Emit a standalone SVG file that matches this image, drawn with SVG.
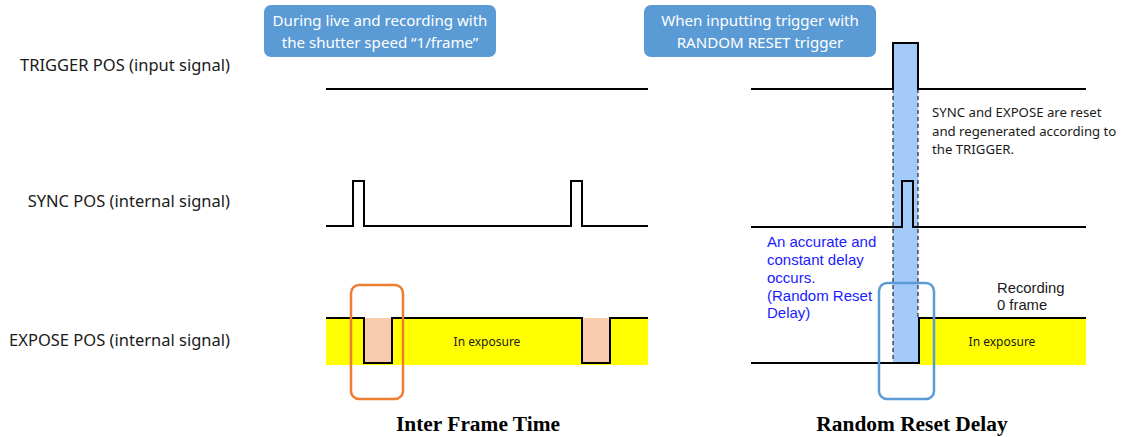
<svg xmlns="http://www.w3.org/2000/svg" width="1148" height="437" viewBox="0 0 1148 437">
<style>
.lbl{font-family:"Noto Sans","Open Sans",sans-serif;font-size:16.5px;fill:#1a1a1a}
.box{fill:#5B9BD5}
.boxt{font-family:"Noto Sans","Open Sans",sans-serif;font-size:15.1px;fill:#ffffff;text-anchor:middle}
.sig{fill:none;stroke:#000;stroke-width:2}
.note{font-family:"Noto Sans","Open Sans",sans-serif;font-size:13.2px;fill:#1a1a1a}
.rec{font-family:"Liberation Sans",Arial,sans-serif;font-size:14.8px;fill:#1a1a1a}
.blue{font-family:"Liberation Sans",Arial,sans-serif;font-size:15px;fill:#1a1aff}
.exp{font-family:"Noto Sans","Open Sans",sans-serif;font-size:12px;fill:#1a1a1a;text-anchor:middle}
.title{font-family:"Liberation Serif",serif;font-size:21.4px;font-weight:bold;fill:#000;text-anchor:middle}
.dash{stroke:#000;stroke-width:1;stroke-dasharray:4 3;fill:none}
</style>
<rect width="1148" height="437" fill="#ffffff"/>
<g id="label-trigger"><text class="lbl" x="230" y="71" text-anchor="end">TRIGGER POS (input signal)</text></g>
<g id="label-sync"><text class="lbl" x="230" y="207" text-anchor="end">SYNC POS (internal signal)</text></g>
<g id="label-expose"><text class="lbl" x="230" y="346" text-anchor="end">EXPOSE POS (internal signal)</text></g>
<g id="callout-left">
<rect class="box" x="264" y="5" width="232" height="52" rx="7"/>
<text class="boxt" x="380" y="26">During live and recording with</text>
<text class="boxt" x="380" y="48">the shutter speed “1/frame”</text>
</g>
<g id="callout-right">
<rect class="box" x="644" y="5" width="232" height="52" rx="7"/>
<text class="boxt" x="760" y="26">When inputting trigger with</text>
<text class="boxt" x="760" y="48">RANDOM RESET trigger</text>
</g>
<g id="left-signals">
<rect x="326" y="318" width="322" height="47" fill="#ffff00"/>
<rect x="364" y="318" width="28" height="45" fill="#f8cbad"/>
<rect x="582" y="318" width="28" height="45" fill="#f8cbad"/>
<path class="sig" d="M326 89H648"/>
<path class="sig" d="M326 226H353V181H364V226H571V181H582V226H648"/>
<path class="sig" d="M326 318H364V363H392V318H582V363H610V318H648"/>
<text class="exp" x="487" y="346">In exposure</text>
<rect x="351" y="285" width="52" height="114" rx="8" fill="none" stroke="#ED7D31" stroke-width="2.5"/>
</g>
<g id="right-signals">
<rect x="893" y="43" width="25" height="320" fill="#A3CAF8"/>
<rect x="919" y="318" width="167" height="47" fill="#ffff00"/>
<path class="sig" d="M751 89H893V43H918V89H1086"/>
<path class="sig" d="M751 227H902V181H913V227H1086"/>
<path class="sig" d="M751 363H919V318H1086"/>
<path class="dash" d="M893 89V363M918 89V318"/>
<text class="exp" x="1002" y="346">In exposure</text>
<rect x="879" y="283" width="55" height="116" rx="8" fill="none" stroke="#5B9BD5" stroke-width="2.5"/>
</g>
<g id="note-reset">
<text class="note" x="932" y="117">SYNC and EXPOSE are reset</text>
<text class="note" x="932" y="135.5">and regenerated according to</text>
<text class="note" x="932" y="154">the TRIGGER.</text>
</g>
<g id="note-delay">
<text class="blue" x="767" y="247">An accurate and</text>
<text class="blue" x="767" y="265">constant delay</text>
<text class="blue" x="767" y="283">occurs.</text>
<text class="blue" x="767" y="300.5">(Random Reset</text>
<text class="blue" x="767" y="318">Delay)</text>
</g>
<g id="note-recording">
<text class="rec" x="997" y="293">Recording</text>
<text class="rec" x="997" y="310">0 frame</text>
</g>
<g id="titles">
<text class="title" x="478" y="431">Inter Frame Time</text>
<text class="title" x="912" y="431">Random Reset Delay</text>
</g>
</svg>
